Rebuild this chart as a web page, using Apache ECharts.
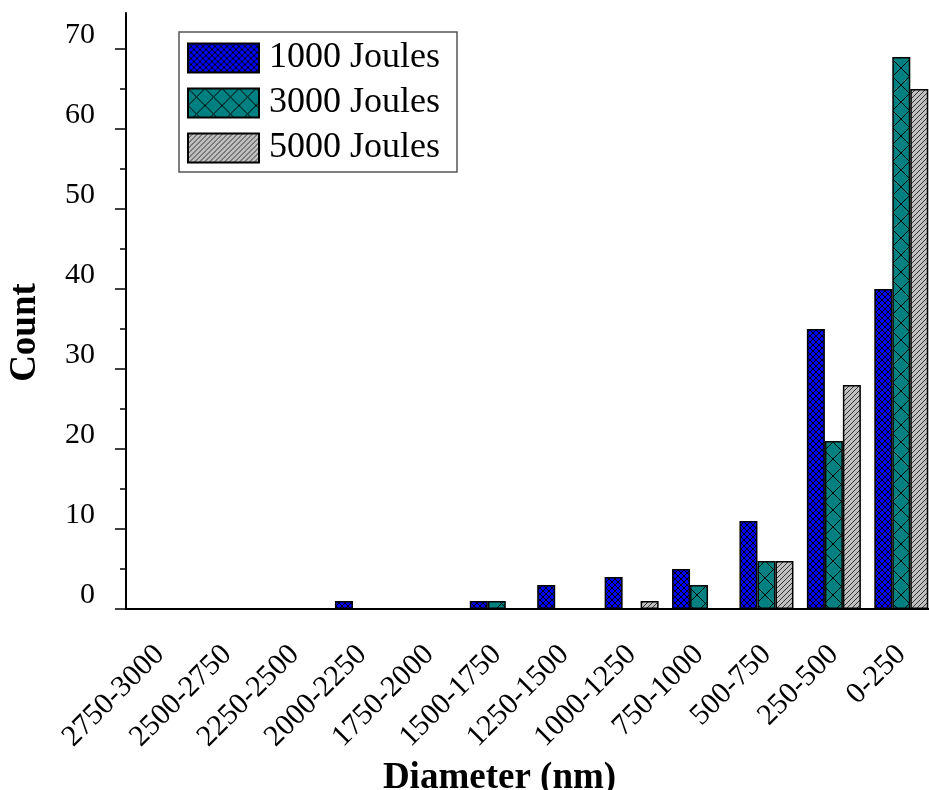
<!DOCTYPE html>
<html>
<head>
<meta charset="utf-8">
<script src="https://cdn.jsdelivr.net/npm/echarts@6/dist/echarts.min.js"></script>
<style>
  html, body { margin: 0; padding: 0; background: #fff; }
  #chart { width: 929px; height: 790px; }
</style>
</head>
<body>
<div id="chart"></div>
<script>
// diameter bins, largest first (as in the figure)
const categories = ['2750-3000', '2500-2750', '2250-2500', '2000-2250', '1750-2000', '1500-1750',
  '1250-1500', '1000-1250', '750-1000', '500-750', '250-500', '0-250']
const joules1000 = [0, 0, 0, 1, 0, 1, 3, 4, 5, 11, 35, 40]
const joules3000 = [0, 0, 0, 0, 0, 1, 0, 0, 3, 6, 21, 69]
const joules5000 = [0, 0, 0, 0, 0, 0, 0, 1, 0, 6, 28, 65]
const seriesNames = ['1000 Joules', '3000 Joules', '5000 Joules']
const yLabels = [0, 10, 20, 30, 40, 50, 60, 70]
const yMinor = [5, 15, 25, 35, 45, 55, 65]

const FONT = 'Liberation Serif'

// small tiled canvases used as fill patterns
function pattern(bg, p, draw) {
  const c = document.createElement('canvas')
  c.width = c.height = p
  const g = c.getContext('2d')
  g.fillStyle = bg
  g.fillRect(0, 0, p, p)
  g.strokeStyle = '#000'
  g.lineWidth = 1
  draw(g, p)
  return { image: c, repeat: 'repeat' }
}
function cross(g, p) {
  g.beginPath()
  g.moveTo(-1, -1); g.lineTo(p + 1, p + 1)
  g.moveTo(p + 1, -1); g.lineTo(-1, p + 1)
  g.stroke()
}
function slash(g, p) {
  g.strokeStyle = '#333'
  g.beginPath()
  for (const o of [-p, 0, p]) { g.moveTo(o - 1, p + 1); g.lineTo(o + p + 1, -1) }
  g.stroke()
}

const fills = [
  pattern('#0000ff', 6, cross),
  pattern('#008080', 17, cross),
  pattern('#c0c0c0', 5, slash),
]

const noZero = (arr) => arr.map((v) => (v === 0 ? '-' : v))

const chart = echarts.init(document.getElementById('chart'), null, { renderer: 'canvas' })

chart.setOption({
  animation: false,
  backgroundColor: '#fff',
  textStyle: { fontFamily: FONT, color: '#000' },
  grid: { left: 126, top: 13, width: 809, bottom: 181, containLabel: false, outerBoundsMode: 'none' },
  legend: {
    orient: 'vertical',
    left: 179, top: 32,
    padding: [8, 17, 6, 8],
    itemWidth: 71, itemHeight: 29, itemGap: 9,
    borderColor: '#555', borderWidth: 1.5,
    icon: 'rect',
    itemStyle: { borderColor: '#000', borderWidth: 2 },
    textStyle: { fontFamily: FONT, fontSize: 36, lineHeight: 36, color: '#000', padding: [0, 0, 0, 5] },
    data: seriesNames,
  },
  xAxis: [
    {
      type: 'category', data: categories, position: 'bottom',
      name: 'Diameter (nm)', nameLocation: 'middle', nameGap: 150,
      nameTextStyle: { fontFamily: FONT, fontSize: 37, fontWeight: 'bold', color: '#000', padding: [0, 62, 0, 0] },
      axisLine: { lineStyle: { color: '#000', width: 2 } },
      axisTick: { alignWithLabel: true, length: 12, lineStyle: { color: '#000', width: 1.5 } },
      axisLabel: { rotate: 45, fontSize: 30, fontFamily: FONT, color: '#000', margin: 41, interval: 0 },
      splitLine: { show: false },
    },
    {
      type: 'category', data: categories, position: 'bottom',
      axisLine: { show: false },
      axisTick: { length: 7, lineStyle: { color: '#000', width: 1.5 } },
      axisLabel: { show: false },
      splitLine: { show: false },
    },
  ],
  yAxis: [
    {
      type: 'value', min: 0, max: 74.5,
      name: 'Count', nameLocation: 'middle', nameGap: 82,
      nameTextStyle: { fontFamily: FONT, fontSize: 37, fontWeight: 'bold', color: '#000', padding: [0, 43, 0, 0] },
      axisLine: { show: true, lineStyle: { color: '#000', width: 2 } },
      axisTick: { show: true, length: 11, customValues: yLabels, lineStyle: { color: '#000', width: 1.5 } },
      axisLabel: { customValues: yLabels, fontSize: 30, fontFamily: FONT, color: '#000', margin: 31, verticalAlign: 'bottom', lineHeight: 28 },
      splitLine: { show: false },
    },
    {
      type: 'value', min: 0, max: 74.5, position: 'left',
      axisLine: { show: false },
      axisTick: { show: true, length: 6, customValues: yMinor, lineStyle: { color: '#000', width: 1.5 } },
      axisLabel: { show: false },
      splitLine: { show: false },
    },
  ],
  series: [joules1000, joules3000, joules5000].map((vals, i) => ({
    name: seriesNames[i],
    type: 'bar',
    xAxisIndex: 0, yAxisIndex: 0,
    barWidth: 18, barGap: '0%',
    data: noZero(vals),
    itemStyle: { color: fills[i], borderColor: '#000', borderWidth: 1.5 },
  })),
})
</script>
</body>
</html>
